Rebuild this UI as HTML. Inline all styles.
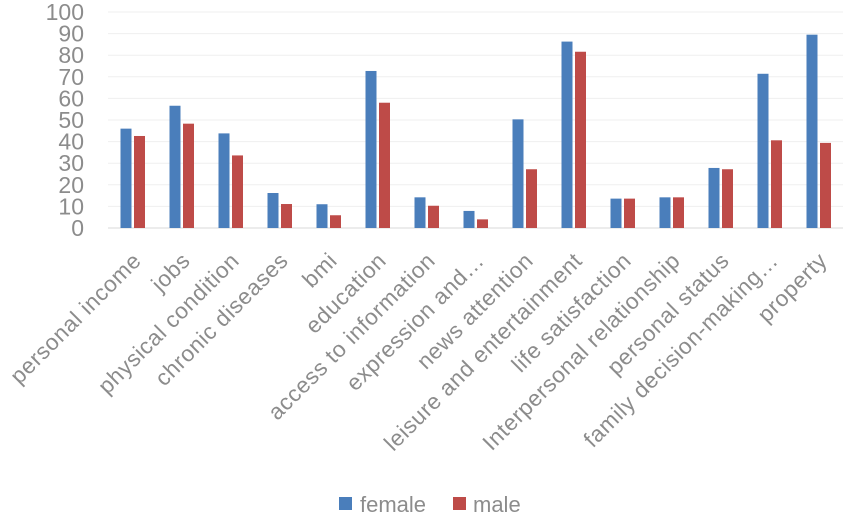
<!DOCTYPE html>
<html><head><meta charset="utf-8"><style>
body{margin:0;background:#fff;}
svg{display:block;font-family:"Liberation Sans",sans-serif;}
</style></head><body>
<svg id="chart" width="851" height="520">
<g id="grid"></g>
<g id="yaxis"></g>
<g id="bars"></g>
<g id="xaxis"></g>
<g>
  <g><rect x="339" y="497" width="13" height="13" fill="#4a7ebb"/><text x="360" y="512" font-size="22" fill="#8c8c8c">female</text></g>
  <g><rect x="453" y="497" width="13" height="13" fill="#be4b48"/><text x="473" y="512" font-size="22" fill="#8c8c8c">male</text></g>
</g>
</svg>
<script>
const categories=["personal income","jobs","physical condition","chronic diseases","bmi","education","access to information","expression and\u2026","news attention","leisure and entertainment","life satisfaction","Interpersonal relationship","personal status","family decision-making\u2026","property"];
const female=[46,56.6,43.8,16.2,11,72.7,14.2,7.9,50.3,86.3,13.6,14.2,27.8,71.4,89.5];
const male=[42.6,48.3,33.6,11.1,5.9,58,10.3,4,27.2,81.6,13.6,14.2,27.2,40.6,39.4];
const yTicks=[0,10,20,30,40,50,60,70,80,90,100];
const NS="http://www.w3.org/2000/svg";
const x0=108,x1=843,y0=228,y100=12;
const bandW=(x1-x0)/categories.length;
function y(v){return y0-(v/100)*(y0-y100);}
function xc(i){return x0+bandW*(i+0.5);}
function mk(t,a,p){const e=document.createElementNS(NS,t);for(const k in a)e.setAttribute(k,a[k]);p.appendChild(e);return e;}
const grid=document.getElementById('grid'),ya=document.getElementById('yaxis'),bars=document.getElementById('bars'),xa=document.getElementById('xaxis');
yTicks.forEach(t=>{
  const l=mk('line',{x1:x0,x2:x1,y1:y(t),y2:y(t),stroke:t===0?'#d9d9d9':'#efefef','stroke-width':1},grid);
  
  
  const tx=mk('text',{x:84,y:y(t)+8,'text-anchor':'end','font-size':23,fill:'#8c8c8c'},ya);
  tx.textContent=t;
  
  
});
categories.forEach((c,i)=>{
  const cx=xc(i);
  const bf=mk('rect',{x:cx-12,y:y(female[i]),width:11,height:y0-y(female[i]),fill:'#4a7ebb'},bars);
  
  
  const bm=mk('rect',{x:cx+1.5,y:y(male[i]),width:11,height:y0-y(male[i]),fill:'#be4b48'},bars);
  
  
  const ax=cx+10,ay=262;
  const t=mk('text',{x:ax,y:ay,'text-anchor':'end','font-size':22.5,fill:'#8c8c8c','letter-spacing':'0.6',transform:`rotate(-45 ${ax} ${ay})`},xa);
  t.textContent=c;
  
  
});
</script>
</body></html>
